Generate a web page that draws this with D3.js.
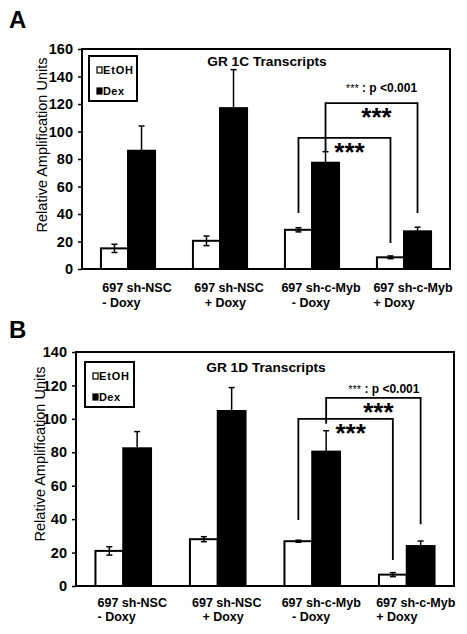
<!DOCTYPE html>
<html><head><meta charset="utf-8">
<script src="https://cdn.jsdelivr.net/npm/d3@7"></script>
<style>
html,body{margin:0;padding:0;background:#fff;}
text{font-family:Arial,"Liberation Sans",sans-serif;}
</style></head>
<body>
<svg id="chart" width="467" height="634"></svg>
<script>
// ---- data ----
const categoriesLine1 = ["697 sh-NSC", "697 sh-NSC", "697 sh-c-Myb", "697 sh-c-Myb"];
const categoriesLine2 = ["- Doxy", "   + Doxy", "   - Doxy", "+ Doxy"];
const seriesNames = ["EtOH", "Dex"];

const gr1cTitle = "GR 1C Transcripts";
const gr1cEtOH = [15, 20.5, 28.5, 8.5];
const gr1cEtOHErr = [3, 3.5, 1.5, 1];
const gr1cDex = [86, 117, 77.3, 27.4];
const gr1cDexErr = [18, 28, 8, 3];
const gr1cTicks = [0, 20, 40, 60, 80, 100, 120, 140, 160];

const gr1dTitle = "GR 1D Transcripts";
const gr1dEtOH = [21, 28, 26.8, 6.8];
const gr1dEtOHErr = [2.5, 1.5, 0.6, 1.2];
const gr1dDex = [82.4, 104.7, 80.4, 23.9];
const gr1dDexErr = [10, 14, 12.5, 3];
const gr1dTicks = [0, 20, 40, 60, 80, 100, 120, 140];

const pLabel = " : p <0.001";
const starLabel = "***";

// ---- layout ----
const panels = [
  {letter:"A", title:gr1cTitle, etoh:gr1cEtOH, etohErr:gr1cEtOHErr, dex:gr1cDex, dexErr:gr1cDexErr, ticks:gr1cTicks,
   L:82, T:49, R:450, B:269, letterY:28, titleY:66, legend:[89,56,137,101], yLabX:47, yLabY:145, xl1:292, xl2:307,
   outer:{top:120.7, lb:85.5, rb:40.7}, inner:{top:95.3, lb:40.7, rb:19}, pY:92},
  {letter:"B", title:gr1dTitle, etoh:gr1dEtOH, etohErr:gr1dEtOHErr, dex:gr1dDex, dexErr:gr1dDexErr, ticks:gr1dTicks,
   L:76, T:352, R:454, B:586, letterY:338, titleY:372, legend:[85,362,134,407], yLabX:45, yLabY:454, xl1:607, xl2:621,
   outer:{top:112.5, lb:97, rb:37}, inner:{top:100, lb:39.5, rb:15.6}, pY:393}
];

const svg = d3.select("#chart");

panels.forEach(p => {
  const g = svg.append("g");
  const maxV = p.ticks[p.ticks.length-1];
  const y = d3.scaleLinear().domain([0, maxV]).range([p.B, p.T]);
  const x0 = d3.scaleBand().domain(d3.range(categoriesLine1.length)).range([p.L, p.R]).padding(0);
  const x1 = d3.scaleBand().domain(seriesNames).range([0, x0.bandwidth()]).paddingInner(0).paddingOuter(0.7);
  const cx = (i, s) => x0(i) + x1(s) + x1.bandwidth()/2;

  // panel letter
  g.append("text").attr("x", 9).attr("y", p.letterY).attr("font-size", 24).attr("font-weight", "bold").text(p.letter);

  // y axis
  const ax = g.append("g").attr("transform", `translate(${p.L},0)`)
    .call(d3.axisLeft(y).tickValues(p.ticks).tickSize(4).tickPadding(5).tickFormat(d3.format("d")));
  ax.select(".domain").remove();
  ax.selectAll(".tick line").attr("stroke", "#000").attr("stroke-width", 1.5);
  ax.selectAll(".tick text").attr("font-size", 14.5).attr("font-weight", "bold").attr("fill", "#000")
    .attr("font-family", "Arial, 'Liberation Sans', sans-serif");

  // y label
  g.append("text").attr("transform", `translate(${p.yLabX},${p.yLabY}) rotate(-90)`)
    .attr("text-anchor", "middle").attr("font-size", 14.5).text("Relative Amplification Units");

  // bars
  const rows = d3.range(categoriesLine1.length).flatMap(i => [
    {i, s:"EtOH", v:p.etoh[i], e:p.etohErr[i]},
    {i, s:"Dex", v:p.dex[i], e:p.dexErr[i]}
  ]);
  g.selectAll("rect.bar").data(rows).enter().append("rect")
    .attr("x", d => x0(d.i) + x1(d.s))
    .attr("y", d => y(d.v))
    .attr("width", x1.bandwidth())
    .attr("height", d => y(0) - y(d.v))
    .attr("fill", d => d.s === "EtOH" ? "#fff" : "#000")
    .attr("stroke", "#000").attr("stroke-width", 2);

  // error bars
  rows.forEach(d => {
    const c = cx(d.i, d.s);
    const col = "#000";
    g.append("line").attr("x1", c).attr("x2", c).attr("y1", y(d.v - d.e)).attr("y2", y(d.v + d.e)).attr("stroke", col).attr("stroke-width", 1.5);
    [d.v - d.e, d.v + d.e].forEach(v => {
      g.append("line").attr("x1", c-3).attr("x2", c+3).attr("y1", y(v)).attr("y2", y(v)).attr("stroke", col).attr("stroke-width", 1.5);
    });
  });

  // frame
  g.append("rect").attr("x", p.L).attr("y", p.T).attr("width", p.R - p.L).attr("height", p.B - p.T)
    .attr("fill", "none").attr("stroke", "#000").attr("stroke-width", 2);

  // title
  g.append("text").attr("x", (p.L + p.R)/2 + 1).attr("y", p.titleY).attr("text-anchor", "middle")
    .attr("font-size", 13.7).attr("font-weight", "bold").text(p.title);

  // legend
  const [lx0, ly0, lx1, ly1] = p.legend;
  g.append("rect").attr("x", lx0).attr("y", ly0).attr("width", lx1-lx0).attr("height", ly1-ly0)
    .attr("fill", "#fff").attr("stroke", "#000").attr("stroke-width", 2);
  seriesNames.forEach((s, k) => {
    const yy = ly0 + 14 + k*21;
    g.append("rect").attr("x", lx0+8).attr("y", yy-3).attr("width", 5).attr("height", 6)
      .attr("fill", s === "EtOH" ? "#fff" : "#000").attr("stroke", "#000").attr("stroke-width", 1.2);
    g.append("text").attr("x", lx0+14).attr("y", yy+4).attr("font-size", 11).attr("font-weight", "bold")
      .attr("textLength", s === "EtOH" ? 30 : 21).text(s);
  });

  // x labels
  d3.range(categoriesLine1.length).forEach(i => {
    const c = x0(i) + x0.bandwidth()/2 + 9;
    const t1 = g.append("text").attr("x", c).attr("y", p.xl1).attr("text-anchor", "middle")
      .attr("font-size", 12.5).attr("font-weight", "bold").text(categoriesLine1[i]);
    const w = t1.node().getComputedTextLength();
    g.append("text").attr("x", c - w/2).attr("y", p.xl2).attr("xml:space", "preserve").style("white-space", "pre")
      .attr("font-size", 12.5).attr("font-weight", "bold").text(categoriesLine2[i]);
  });

  // significance brackets
  const drawBracket = (s, b) => {
    const xa = cx(2, s), xb = cx(3, s);
    g.append("path").attr("d", `M${xa},${y(b.lb)}V${y(b.top)}H${xb}V${y(b.rb)}`)
      .attr("fill", "none").attr("stroke", "#000").attr("stroke-width", 1.8);
    g.append("text").attr("x", (xa+xb)/2 + 5).attr("y", y(b.top) + 23).attr("text-anchor", "middle")
      .attr("font-size", 26).attr("font-weight", "bold").text(starLabel);
  };
  drawBracket("Dex", p.outer);
  drawBracket("EtOH", p.inner);

  // p-value note
  const pt = g.append("text").attr("x", cx(3, "EtOH") - 9).attr("y", p.pY).attr("text-anchor", "middle")
    .attr("font-weight", "bold");
  pt.append("tspan").attr("font-size", 11).attr("font-weight", "normal").text(starLabel);
  pt.append("tspan").attr("font-size", 12).style("white-space", "pre").text(pLabel);
});
</script>
</body></html>
